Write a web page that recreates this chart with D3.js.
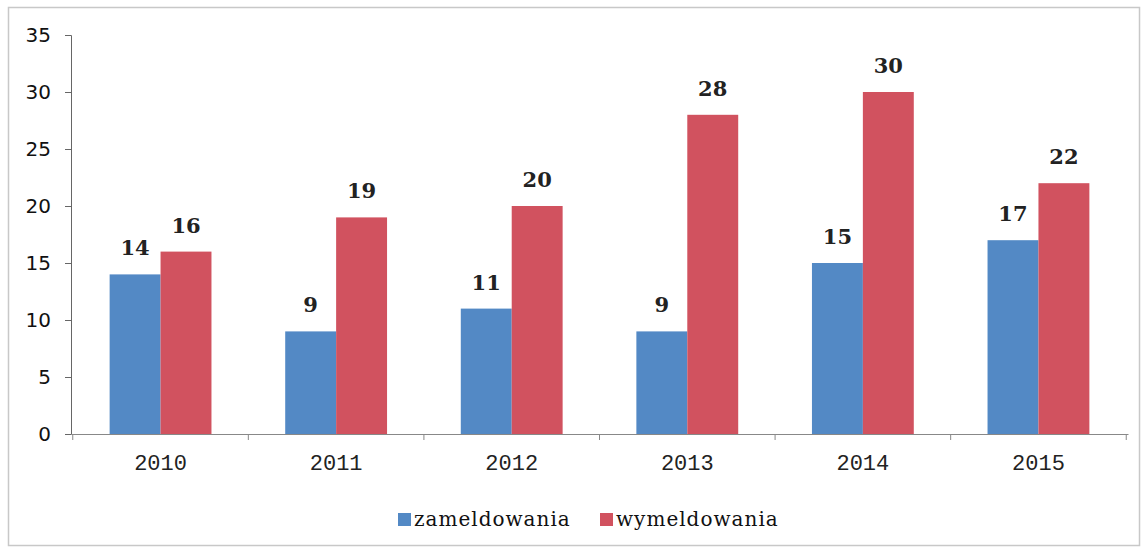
<!DOCTYPE html>
<html>
<head>
<meta charset="utf-8">
<script src="https://cdn.jsdelivr.net/npm/d3@7"></script>
<style>
  body { margin: 0; background: #fff; }
</style>
</head>
<body>
<div id="chart"></div>
<script>
// data
const years = ["2010", "2011", "2012", "2013", "2014", "2015"];
const seriesNames = ["zameldowania", "wymeldowania"];
const zameldowania = [14, 9, 11, 9, 15, 17];
const wymeldowania = [16, 19, 20, 28, 30, 22];
const yTicks = [0, 5, 10, 15, 20, 25, 30, 35];

const colors = ["#5389C5", "#D1525F"];

const width = 1148, height = 548;
const margin = { left: 71, right: 20, top: 35, bottom: 114 };

const svg = d3.select("#chart").append("svg")
    .attr("width", width)
    .attr("height", height);

// outer frame
svg.append("rect")
    .attr("x", 8.5).attr("y", 7.5)
    .attr("width", 1131).attr("height", 538)
    .attr("fill", "none")
    .attr("stroke", "#c8c8c8")
    .attr("stroke-width", 1.5);

let x = d3.scaleBand()
    .domain(years)
    .range([margin.left, width - margin.right])
    .paddingInner(0.42)
    .paddingOuter(0.22);

let xs = d3.scaleBand()
    .domain(seriesNames)
    .range([0, x.bandwidth()]);

let y = d3.scaleLinear()
    .domain([0, 35])
    .range([height - margin.bottom, margin.top]);

const rows = years.map((yr, i) => ({
    year: yr,
    values: [zameldowania[i], wymeldowania[i]]
}));

// bars
const groups = svg.append("g").selectAll("g")
    .data(rows)
    .enter().append("g")
    .attr("transform", d => "translate(" + x(d.year) + ",0)");

groups.selectAll("rect")
    .data(d => d.values.map((v, j) => ({ name: seriesNames[j], value: v, j: j })))
    .enter().append("rect")
    .attr("x", d => xs(d.name))
    .attr("y", d => y(d.value))
    .attr("width", xs.bandwidth())
    .attr("height", d => y(0) - y(d.value))
    .attr("fill", d => colors[d.j]);

groups.selectAll("text")
    .data(d => d.values.map((v, j) => ({ name: seriesNames[j], value: v })))
    .enter().append("text")
    .attr("x", d => xs(d.name) + xs.bandwidth() / 2)
    .attr("y", d => y(d.value) - 19)
    .attr("text-anchor", "middle")
    .attr("font-family", "'DejaVu Serif', serif")
    .attr("font-weight", "bold")
    .attr("font-size", 21)
    .attr("fill", "#222")
    .text(d => d.value);

// y axis
const yAxis = svg.append("g")
    .attr("transform", "translate(" + margin.left + ",0)")
    .call(d3.axisLeft(y).tickValues(yTicks).tickSize(6).tickPadding(14));
yAxis.select(".domain").attr("stroke", "#666");
yAxis.selectAll(".tick line").attr("stroke", "#666");
yAxis.selectAll("text")
    .attr("font-family", "'DejaVu Sans', sans-serif")
    .attr("font-size", 20)
    .attr("fill", "#111");

// x axis
const xAxis = svg.append("g")
    .attr("transform", "translate(0," + y(0) + ")")
    .call(d3.axisBottom(x).tickSize(0).tickPadding(20));
xAxis.select(".domain").attr("stroke", "#888");
xAxis.selectAll("text")
    .attr("font-family", "'Liberation Mono', monospace")
    .attr("font-size", 22)
    .attr("fill", "#222");

// category separators
const step = x.step();
const bounds = d3.range(years.length + 1).map(i => margin.left + x.paddingOuter() * step - x.paddingInner() * step / 2 + i * step);
svg.append("g").selectAll("line")
    .data(bounds)
    .enter().append("line")
    .attr("x1", d => d).attr("x2", d => d)
    .attr("y1", y(0)).attr("y2", y(0) + 6)
    .attr("stroke", "#888");

// legend
const legend = svg.append("g").attr("transform", "translate(398,519)");
const legendX = [0, 202];
seriesNames.forEach((name, i) => {
    legend.append("rect")
        .attr("x", legendX[i]).attr("y", -6)
        .attr("width", 13).attr("height", 13)
        .attr("fill", colors[i]);
    legend.append("text")
        .attr("x", legendX[i] + 16).attr("y", 7)
        .attr("font-family", "'DejaVu Serif', serif")
        .attr("font-size", 20)
        .attr("letter-spacing", 1)
        .attr("fill", "#111")
        .text(name);
});
</script>
</body>
</html>
